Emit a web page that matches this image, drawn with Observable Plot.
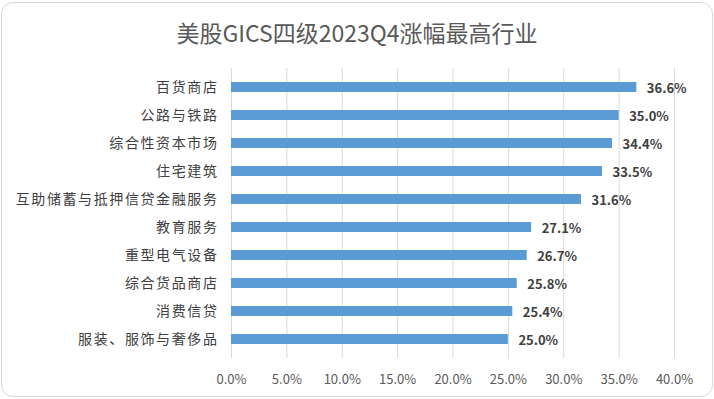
<!DOCTYPE html>
<html><head><meta charset="utf-8">
<script src="https://cdn.jsdelivr.net/npm/d3@7"></script>
<script src="https://cdn.jsdelivr.net/npm/@observablehq/plot@0.6"></script>
<style>
body{margin:0;background:#fff;}
#card{position:absolute;left:1px;top:2px;width:710px;height:393px;border:1px solid #d9d9d9;border-radius:12px;background:#fff;overflow:hidden;}
#title{position:absolute;left:0;top:0;width:714px;height:56px;text-align:center;line-height:64px;font-family:"Noto Sans CJK SC",sans-serif;font-size:23px;color:#595959;}
#chart{position:absolute;left:0;top:56px;}
g[aria-label="y-axis tick label"] text{letter-spacing:1.6px;}
</style></head>
<body>
<div id="card"></div>
<div id="title">美股GICS四级2023Q4涨幅最高行业</div>
<div id="chart"></div>
<script>
const categories = ["百货商店","公路与铁路","综合性资本市场","住宅建筑","互助储蓄与抵押信贷金融服务","教育服务","重型电气设备","综合货品商店","消费信贷","服装、服饰与奢侈品"];
const values = [36.6,35.0,34.4,33.5,31.6,27.1,26.7,25.8,25.4,25.0];
const xTicks = [0,5,10,15,20,25,30,35,40];
const data = categories.map((c,i)=>({c, v: values[i]}));
const font = '"Noto Sans CJK SC", sans-serif';
const chart = Plot.plot({
  width: 714, height: 340,
  marginLeft: 231, marginRight: 40, marginTop: 12, marginBottom: 38,
  style: {fontFamily: font, background: "transparent"},
  x: {domain: [0,40], ticks: xTicks, tickFormat: d => d.toFixed(1)+"%", label: null, tickSize: 0, tickPadding: 16},
  y: {domain: categories, label: null, tickSize: 0, paddingInner: 0.66, paddingOuter: 0.39},
  marks: [
    Plot.gridX(xTicks, {stroke: "#d9d9d9", strokeOpacity: 1}),
    Plot.barX(data, {x: "v", y: "c", fill: "#5b9bd5"}),
    Plot.text(data, {x: "v", y: "c", text: d => d.v.toFixed(1)+"%", textAnchor: "start", dx: 10, dy: 1, fontWeight: "bold", fontSize: 13, fill: "#404040"}),
    Plot.axisY({tickSize: 0, tickPadding: 13, fontSize: 14, color: "#404040"}),
    Plot.axisX(xTicks, {tickSize: 0, tickPadding: 16, fontSize: 13, color: "#595959", tickFormat: d => d.toFixed(1)+"%"})
  ]
});
document.getElementById("chart").appendChild(chart);
</script>
</body></html>
